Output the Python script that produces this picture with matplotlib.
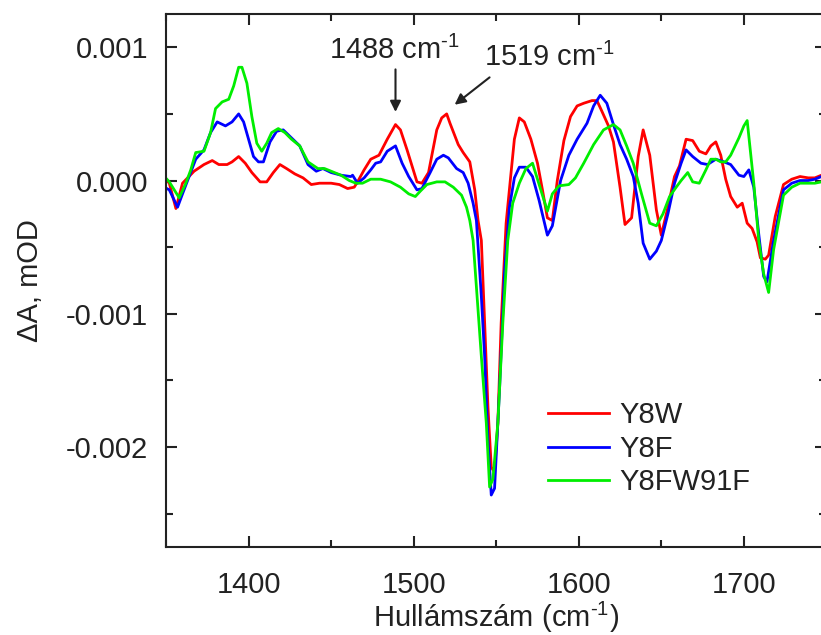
import numpy as np
import matplotlib
matplotlib.use("Agg")
import matplotlib.pyplot as plt
from matplotlib.ticker import MultipleLocator, FormatStrFormatter

# spectra, dA in units of 1e-4
y8w_x = [1349, 1352, 1356, 1360, 1367, 1373, 1378, 1382, 1387, 1390, 1394, 1398, 1402,
         1407, 1411, 1415, 1419, 1423, 1428, 1433, 1438, 1443, 1450, 1455, 1460, 1464,
         1466, 1470, 1474, 1479, 1484, 1489, 1492, 1496, 1502, 1505, 1509, 1514, 1517,
         1520, 1522, 1527, 1530, 1534, 1537, 1539, 1541, 1543, 1545, 1547, 1549, 1551,
         1553, 1556, 1559, 1561, 1564, 1567, 1571, 1575, 1578, 1581, 1584, 1587, 1591,
         1595, 1599, 1603, 1608, 1611, 1614, 1618, 1621, 1625, 1628, 1632, 1636, 1639,
         1643, 1647, 1650, 1654, 1658, 1661, 1665, 1669, 1673, 1677, 1680, 1683, 1686,
         1689, 1692, 1696, 1699, 1702, 1705, 1708, 1710, 1713, 1715, 1719, 1724, 1729,
         1734, 1739, 1743, 1747, 1750]
y8w_y = [0.2, -0.2, -2.1, -0.2, 0.7, 1.2, 1.5, 1.2, 1.2, 1.4, 1.8, 1.3, 0.6,
         -0.1, -0.1, 0.6, 1.2, 0.9, 0.5, 0.2, -0.3, -0.2, -0.2, -0.3, -0.6, -0.5,
         -0.1, 0.8, 1.6, 1.9, 3.1, 4.2, 3.8, 2.3, -0.1, -0.2, 0.6, 3.8, 4.7,
         5.0, 4.3, 2.7, 2.1, 1.4, -0.7, -3.0, -4.5, -10.7, -17.0, -21.5, -21.9, -18.2,
         -10.7, -3.2, 0.6, 3.1, 4.7, 4.4, 3.1, 1.3, -0.7, -2.8, -3.0, 0.0, 3.0,
         4.8, 5.6, 5.8, 6.0, 6.0, 5.2, 4.1, 2.9, -0.5, -3.3, -2.8, 1.8, 3.8,
         1.9, -2.2, -4.1, -2.0, 0.3, 1.1, 3.1, 3.0, 2.2, 2.0, 2.6, 2.9, 1.9,
         0.1, -1.2, -2.0, -1.7, -3.2, -3.6, -4.6, -5.8, -5.9, -5.6, -2.7, -0.3, 0.1,
         0.3, 0.2, 0.2, 0.4, 0.4]

y8f_x = [1349, 1352, 1357, 1360, 1364, 1368, 1373, 1377, 1381, 1386, 1390, 1394, 1397,
         1400, 1403, 1406, 1409, 1413, 1417, 1421, 1426, 1431, 1436, 1441, 1445, 1450,
         1456, 1462, 1463, 1466, 1470, 1474, 1477, 1480, 1484, 1489, 1493, 1497, 1502,
         1505, 1510, 1514, 1518, 1521, 1526, 1530, 1533, 1536, 1538, 1541, 1543, 1545,
         1547, 1549, 1552, 1555, 1558, 1561, 1564, 1568, 1572, 1576, 1581, 1584, 1589,
         1594, 1599, 1605, 1609, 1613, 1617, 1621, 1625, 1629, 1633, 1636, 1639, 1643,
         1647, 1650, 1654, 1658, 1662, 1665, 1669, 1674, 1678, 1683, 1688, 1692, 1697,
         1700, 1703, 1706, 1709, 1712, 1714, 1718, 1724, 1729, 1734, 1739, 1743, 1747,
         1750]
y8f_y = [-0.5, -0.7, -2.0, -1.0, 0.3, 1.6, 2.3, 3.6, 4.4, 4.1, 4.4, 5.0, 4.4,
         3.1, 1.8, 1.4, 1.4, 2.9, 3.7, 3.8, 3.2, 2.6, 1.2, 0.7, 0.9, 0.6,
         0.4, 0.3, 0.4, -0.2, 0.2, 0.8, 1.3, 1.4, 2.2, 2.6, 1.3, 0.3, -0.7,
         -0.6, 0.6, 1.6, 1.9, 1.7, 0.9, 0.6, -0.2, -1.7, -3.0, -8.7, -13.2, -19.5,
         -23.6, -23.1, -15.7, -7.0, -2.0, 0.2, 1.0, 1.0, 0.3, -1.5, -4.1, -3.4, 0.0,
         1.9, 3.1, 4.3, 5.6, 6.4, 5.8, 4.2, 2.7, 1.6, 0.3, -1.7, -4.7, -5.9,
         -5.3, -4.5, -2.5, -0.2, 1.3, 2.3, 1.8, 1.3, 1.2, 1.6, 1.4, 1.2, 0.4,
         0.3, 0.8, -0.5, -4.0, -7.2, -7.6, -4.5, -0.7, -0.2, 0.0, 0.0, 0.1, 0.3,
         0.3]

y8fw91f_x = [1349, 1352, 1358, 1362, 1365, 1368, 1373, 1377, 1380, 1384, 1388, 1391, 1394,
             1396, 1399, 1402, 1405, 1408, 1411, 1414, 1418, 1422, 1426, 1431, 1436, 1442,
             1446, 1450, 1456, 1461, 1465, 1469, 1474, 1480, 1486, 1492, 1497, 1501, 1504,
             1508, 1514, 1519, 1524, 1529, 1532, 1534, 1536, 1541, 1544, 1546, 1548, 1551,
             1554, 1557, 1560, 1564, 1568, 1572, 1576, 1581, 1584, 1588, 1594, 1598, 1603,
             1609, 1615, 1621, 1625, 1629, 1633, 1638, 1643, 1647, 1651, 1655, 1659, 1662,
             1666, 1669, 1673, 1677, 1680, 1683, 1686, 1689, 1692, 1697, 1700, 1702, 1706,
             1709, 1712, 1715, 1718, 1724, 1729, 1734, 1739, 1743, 1747, 1750]
y8fw91f_y = [0.3, -0.1, -1.3, -0.2, 0.8, 2.1, 2.2, 3.6, 5.4, 5.9, 6.1, 7.1, 8.5,
             8.5, 7.3, 4.8, 2.8, 2.2, 2.8, 3.6, 3.9, 3.6, 3.1, 2.6, 1.4, 0.9,
             0.9, 0.7, 0.4, 0.0, -0.2, -0.2, 0.1, 0.1, -0.1, -0.5, -1.0, -1.2, -0.8,
             -0.3, -0.1, -0.1, -0.5, -1.1, -2.0, -3.0, -4.5, -13.2, -18.2, -23.0, -22.4, -18.2,
             -10.7, -4.5, -1.7, -0.2, 0.9, 1.3, -0.3, -2.3, -1.0, -0.4, -0.3, 0.2, 1.3,
             2.7, 3.8, 4.2, 3.8, 2.6, 1.3, -1.0, -3.2, -3.4, -2.5, -1.2, -0.5, 0.0,
             0.6, -0.1, -0.2, 0.8, 1.6, 1.6, 1.4, 1.4, 1.9, 3.2, 4.1, 4.5, -0.2,
             -4.5, -7.0, -8.4, -5.2, -1.1, -0.5, -0.2, -0.2, -0.2, -0.1, -0.1]

labels = ["Y8W", "Y8F", "Y8FW91F"]
colors = ["#ff0000", "#0000ff", "#00ee00"]
scale = 1e-4

plt.rcParams['font.family'] = ['Liberation Sans', 'DejaVu Sans']
plt.rcParams['mathtext.fontset'] = 'custom'
plt.rcParams['mathtext.rm'] = 'Liberation Sans'
plt.rcParams['mathtext.default'] = 'regular'
plt.rcParams['axes.unicode_minus'] = False

fig = plt.figure(figsize=(8.21, 6.35), dpi=100)
ax = fig.add_axes([0.2022, 0.1386, 0.8044, 0.8394])

ink = "#222222"
series = [(y8w_x, y8w_y), (y8f_x, y8f_y), (y8fw91f_x, y8fw91f_y)]
for (xs, ys), lab, col in zip(series, labels, colors):
    ax.plot(xs, np.array(ys) * scale, color=col, lw=2.0, label=lab)

ax.set_xlim(1350, 1750)
ax.set_ylim(-0.00275, 0.00125)
ax.xaxis.set_major_locator(MultipleLocator(100))
ax.xaxis.set_minor_locator(MultipleLocator(50))
ax.yaxis.set_major_locator(MultipleLocator(0.001))
ax.yaxis.set_minor_locator(MultipleLocator(0.0005))
ax.yaxis.set_major_formatter(FormatStrFormatter('%.3f'))

for s in ax.spines.values():
    s.set_linewidth(1.5)
    s.set_color(ink)
ax.tick_params(which='both', direction='in', top=True, right=True,
               width=1.5, color=ink, labelsize=21, labelcolor=ink)
ax.tick_params(which='major', length=8)
ax.tick_params(which='minor', length=5)
ax.tick_params(axis='x', pad=17)
ax.tick_params(axis='y', pad=13)

sup = '$^{\\text{-1}}$'
ax.set_xlabel('Hullámszám (cm' + sup + ')', fontsize=21, color=ink)
ax.set_ylabel('ΔA, mOD', fontsize=21, color=ink)
ax.xaxis.set_label_coords(0.5, -0.1)
ax.yaxis.set_label_coords(-0.185, 0.5)

# peak markers
ax.text(1488.4, 0.000915, '1488 cm' + sup, fontsize=21, color=ink, ha='center', va='baseline')
ax.annotate('', xy=(1489, 0.000494), xytext=(1489, 0.000855),
            arrowprops=dict(arrowstyle='-|>', color=ink, lw=1.5, mutation_scale=16))
ax.text(1542.5, 0.000857, '1519 cm' + sup, fontsize=21, color=ink, ha='left', va='baseline')
ax.annotate('', xy=(1523.5, 0.000556), xytext=(1547.3, 0.000787),
            arrowprops=dict(arrowstyle='-|>', color=ink, lw=1.5, mutation_scale=16))

leg = ax.legend(loc='upper left', bbox_to_anchor=(0.578, 0.2735), frameon=False,
                fontsize=21, handlelength=2.1, handletextpad=0.35, labelspacing=0.19,
                borderpad=0, borderaxespad=0)
for t in leg.get_texts():
    t.set_color(ink)

plt.savefig('out.png', dpi=100)
